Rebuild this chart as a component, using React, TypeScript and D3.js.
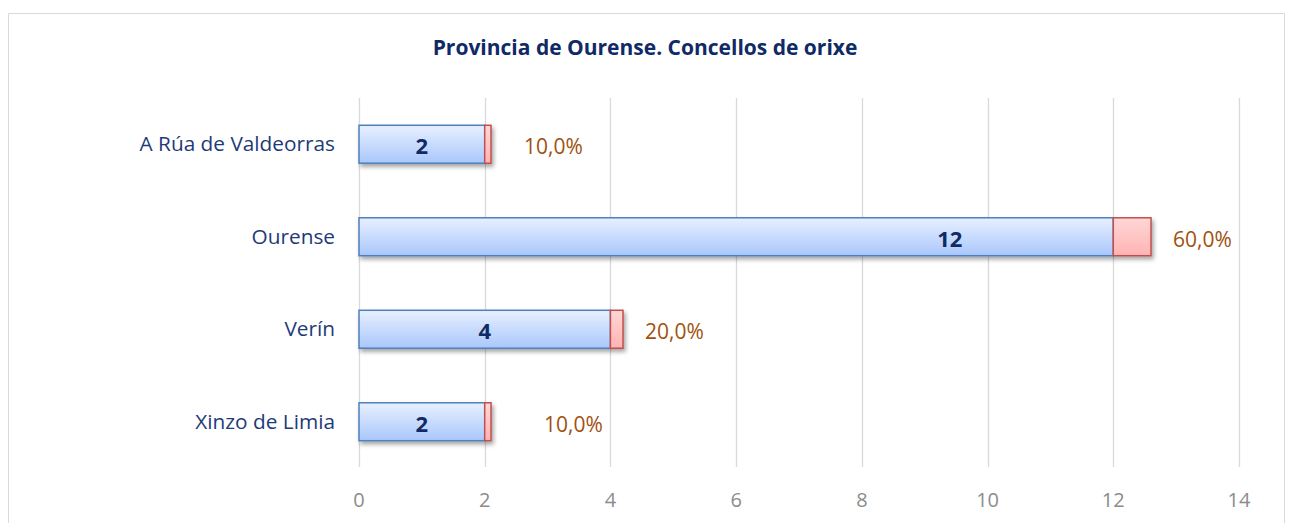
import React, { useEffect, useRef } from 'react';
import * as d3 from 'd3';

const categories = ['A Rúa de Valdeorras', 'Ourense', 'Verín', 'Xinzo de Limia'];
const counts = [2, 12, 4, 2];
const shares = [0.1, 0.6, 0.2, 0.1];
const xTicks = [0, 2, 4, 6, 8, 10, 12, 14];
// the labels were nudged by hand in the original
const countLabelAt = [1, 9.4, 2, 1];
const labelGap = [33, 22, 22, 53];

const App = () => {
    const svgRef = useRef<SVGSVGElement | null>(null);

    useEffect(() => {
        const width = 1289;
        const height = 523;
        const margin = { top: 98, right: 50, bottom: 55, left: 359 };
        const font = '"Open Sans", sans-serif';

        const svg = d3.select(svgRef.current);
        svg.selectAll('*').remove();
        svg.attr('width', width).attr('height', height);

        const defs = svg.append('defs');
        const blue = defs.append('linearGradient').attr('id', 'blueGrad')
            .attr('x1', 0).attr('y1', 0).attr('x2', 0).attr('y2', 1);
        blue.append('stop').attr('offset', '0%').attr('stop-color', '#e8f0ff');
        blue.append('stop').attr('offset', '100%').attr('stop-color', '#a9c7fb');
        const red = defs.append('linearGradient').attr('id', 'redGrad')
            .attr('x1', 0).attr('y1', 0).attr('x2', 0).attr('y2', 1);
        red.append('stop').attr('offset', '0%').attr('stop-color', '#ffd6d6');
        red.append('stop').attr('offset', '100%').attr('stop-color', '#ffb3b3');
        const shadow = defs.append('filter').attr('id', 'shadow')
            .attr('x', '-10%').attr('y', '-20%').attr('width', '130%').attr('height', '160%');
        shadow.append('feDropShadow').attr('dx', 2).attr('dy', 3).attr('stdDeviation', 2.2)
            .attr('flood-color', '#000').attr('flood-opacity', 0.35);

        // frame
        svg.append('path')
            .attr('d', `M8.5,${height} V13.5 H1284.5 V${height}`)
            .attr('fill', 'none').attr('stroke', '#d9d9d9').attr('stroke-width', 1);

        const x = d3.scaleLinear().domain([0, 14]).range([margin.left, width - margin.right]);
        const y = d3.scaleBand().domain(categories)
            .range([margin.top, height - margin.bottom]).paddingInner(0.59).paddingOuter(0.295);

        // gridlines
        svg.append('g').selectAll('line').data(xTicks).join('line')
            .attr('x1', d => Math.round(x(d)) + 0.5).attr('x2', d => Math.round(x(d)) + 0.5)
            .attr('y1', margin.top).attr('y2', height - margin.bottom - 1)
            .attr('stroke', '#d9d9d9').attr('stroke-width', 1.3);

        svg.append('g').selectAll('text').data(xTicks).join('text')
            .attr('x', d => x(d)).attr('y', 507)
            .attr('text-anchor', 'middle')
            .attr('font-family', font).attr('font-size', 20).attr('fill', '#8c8c8c')
            .text(d => d);

        // category labels
        svg.append('g').selectAll('text').data(categories).join('text')
            .attr('x', 335).attr('y', d => (y(d) ?? 0) + y.bandwidth() / 2 + 7)
            .attr('text-anchor', 'end')
            .attr('font-family', font).attr('font-size', 20.8).attr('fill', '#1f3a78')
            .text(d => d);

        const rows = categories.map((c, i) => ({
            c, n: counts[i], p: shares[i], gap: labelGap[i], at: countLabelAt[i],
        }));

        const bars = svg.append('g').attr('filter', 'url(#shadow)');
        bars.selectAll('rect.count').data(rows).join('rect')
            .attr('class', 'count')
            .attr('x', x(0)).attr('y', d => y(d.c) ?? 0)
            .attr('width', d => x(d.n) - x(0)).attr('height', y.bandwidth())
            .attr('fill', 'url(#blueGrad)').attr('stroke', '#4f81bd').attr('stroke-width', 1.5);
        bars.selectAll('rect.share').data(rows).join('rect')
            .attr('class', 'share')
            .attr('x', d => x(d.n)).attr('y', d => y(d.c) ?? 0)
            .attr('width', d => x(d.n + d.p) - x(d.n)).attr('height', y.bandwidth())
            .attr('fill', 'url(#redGrad)').attr('stroke', '#c0504d').attr('stroke-width', 1.5);

        // count labels
        svg.append('g').selectAll('text').data(rows).join('text')
            .attr('x', d => x(d.at)).attr('y', d => (y(d.c) ?? 0) + y.bandwidth() / 2 + 10)
            .attr('text-anchor', 'middle')
            .attr('font-family', font).attr('font-weight', 'bold').attr('font-size', 22)
            .attr('fill', '#0f2a66')
            .text(d => d.n);

        // share labels
        svg.append('g').selectAll('text').data(rows).join('text')
            .attr('x', d => x(d.n + d.p) + d.gap).attr('y', d => (y(d.c) ?? 0) + y.bandwidth() / 2 + 10)
            .attr('font-family', font).attr('font-size', 21).attr('fill', '#a0510f')
            .text(d => d3.format('.1f')(d.p * 100).replace('.', ',') + '%');

        svg.append('text')
            .attr('x', 645).attr('y', 55)
            .attr('text-anchor', 'middle')
            .attr('font-family', font).attr('font-weight', 'bold').attr('font-size', 21)
            .attr('fill', '#0f2a66')
            .text('Provincia de Ourense. Concellos de orixe');
    }, []);

    return (
        <div style={{ position: 'absolute', left: 0, top: 0 }}>
            <svg ref={svgRef}></svg>
        </div>
    );
};

export default App;
